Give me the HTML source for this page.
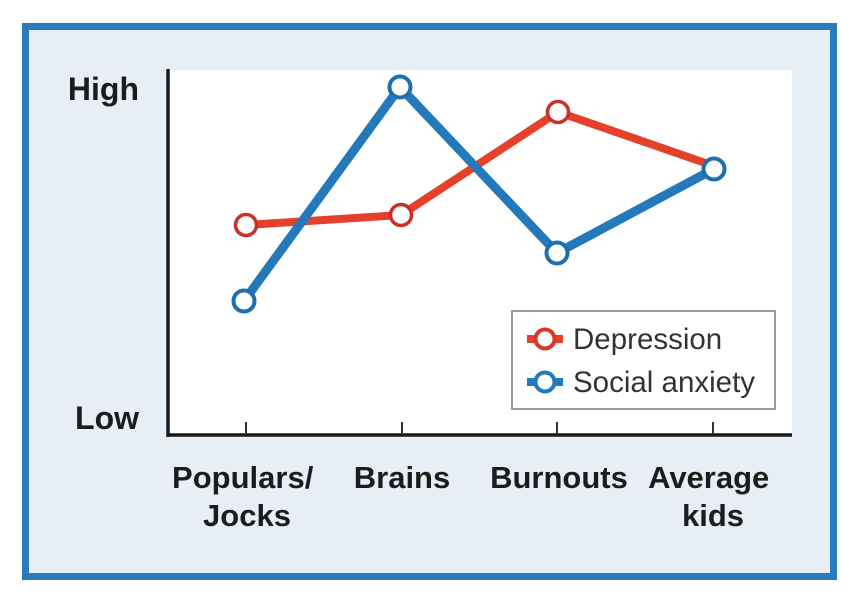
<!DOCTYPE html>
<html>
<head>
<meta charset="utf-8">
<style>
  html, body { margin:0; padding:0; background:#ffffff; }
  svg { display:block; }
  .ax { font-family:"Liberation Sans", sans-serif; font-weight:bold; fill:#1c1c1c; }
  .lg { font-family:"Liberation Sans", sans-serif; fill:#333333; }
</style>
</head>
<body>
<svg width="856" height="600" viewBox="0 0 856 600" xmlns="http://www.w3.org/2000/svg">
  <rect x="0" y="0" width="856" height="600" fill="#ffffff"/>
  <!-- outer framed box -->
  <rect x="25.5" y="26.5" width="808" height="550" fill="#e7eef6" stroke="#2a7bbd" stroke-width="7"/>
  <!-- plot area -->
  <rect x="168" y="70" width="624" height="365" fill="#ffffff"/>

  <!-- axes -->
  <line x1="168" y1="69" x2="168" y2="437" stroke="#1a1a1a" stroke-width="3.5"/>
  <line x1="166.5" y1="435" x2="792" y2="435" stroke="#1a1a1a" stroke-width="3.5"/>
  <!-- ticks -->
  <g stroke="#333" stroke-width="2">
    <line x1="246" y1="422" x2="246" y2="434"/>
    <line x1="402" y1="422" x2="402" y2="434"/>
    <line x1="557" y1="422" x2="557" y2="434"/>
    <line x1="713" y1="422" x2="713" y2="434"/>
  </g>

  <!-- y labels -->
  <text class="ax" x="139" y="100" font-size="32" text-anchor="end">High</text>
  <text class="ax" x="139" y="429" font-size="32" text-anchor="end">Low</text>

  <!-- x labels -->
  <text class="ax" font-size="31" text-anchor="middle">
    <tspan x="247" y="488">Populars/</tspan>
    <tspan x="247" y="526">Jocks</tspan>
  </text>
  <text class="ax" x="402" y="488" font-size="31" text-anchor="middle">Brains</text>
  <text class="ax" x="559" y="488" font-size="31" text-anchor="middle">Burnouts</text>
  <text class="ax" font-size="31" text-anchor="middle">
    <tspan x="713" y="488">Average</tspan>
    <tspan x="713" y="526">kids</tspan>
  </text>

  <!-- Depression line -->
  <polyline points="246,225 401,215 558,112 714,166" fill="none" stroke="#e4402a" stroke-width="8" stroke-linejoin="round"/>
  <!-- Social anxiety line -->
  <polyline points="244,301 400,87 557,253 714,169" fill="none" stroke="#2479bb" stroke-width="9" stroke-linejoin="round"/>

  <!-- Depression markers -->
  <g fill="#ffffff" stroke="#c9302a" stroke-width="3.5">
    <circle cx="246" cy="225" r="10.5"/>
    <circle cx="401" cy="215" r="10.5"/>
    <circle cx="558" cy="112" r="10.5"/>
  </g>
  <!-- Social markers -->
  <g fill="#ffffff" stroke="#1f6fae" stroke-width="4">
    <circle cx="244" cy="301" r="10.5"/>
    <circle cx="400" cy="87" r="10.5"/>
    <circle cx="557" cy="253" r="10.5"/>
    <circle cx="714" cy="169" r="10.5"/>
  </g>

  <!-- legend -->
  <rect x="512" y="311" width="263" height="98" fill="#ffffff" stroke="#9a9a9a" stroke-width="2"/>
  <line x1="527" y1="339" x2="563" y2="339" stroke="#e4402a" stroke-width="8"/>
  <circle cx="545" cy="339" r="9.5" fill="#ffffff" stroke="#d9362a" stroke-width="4"/>
  <text class="lg" x="573" y="349" font-size="29.5">Depression</text>
  <line x1="527" y1="382" x2="563" y2="382" stroke="#2479bb" stroke-width="8"/>
  <circle cx="545" cy="382" r="9.5" fill="#ffffff" stroke="#2479bb" stroke-width="4"/>
  <text class="lg" x="573" y="392" font-size="29.5">Social anxiety</text>
</svg>
</body>
</html>
